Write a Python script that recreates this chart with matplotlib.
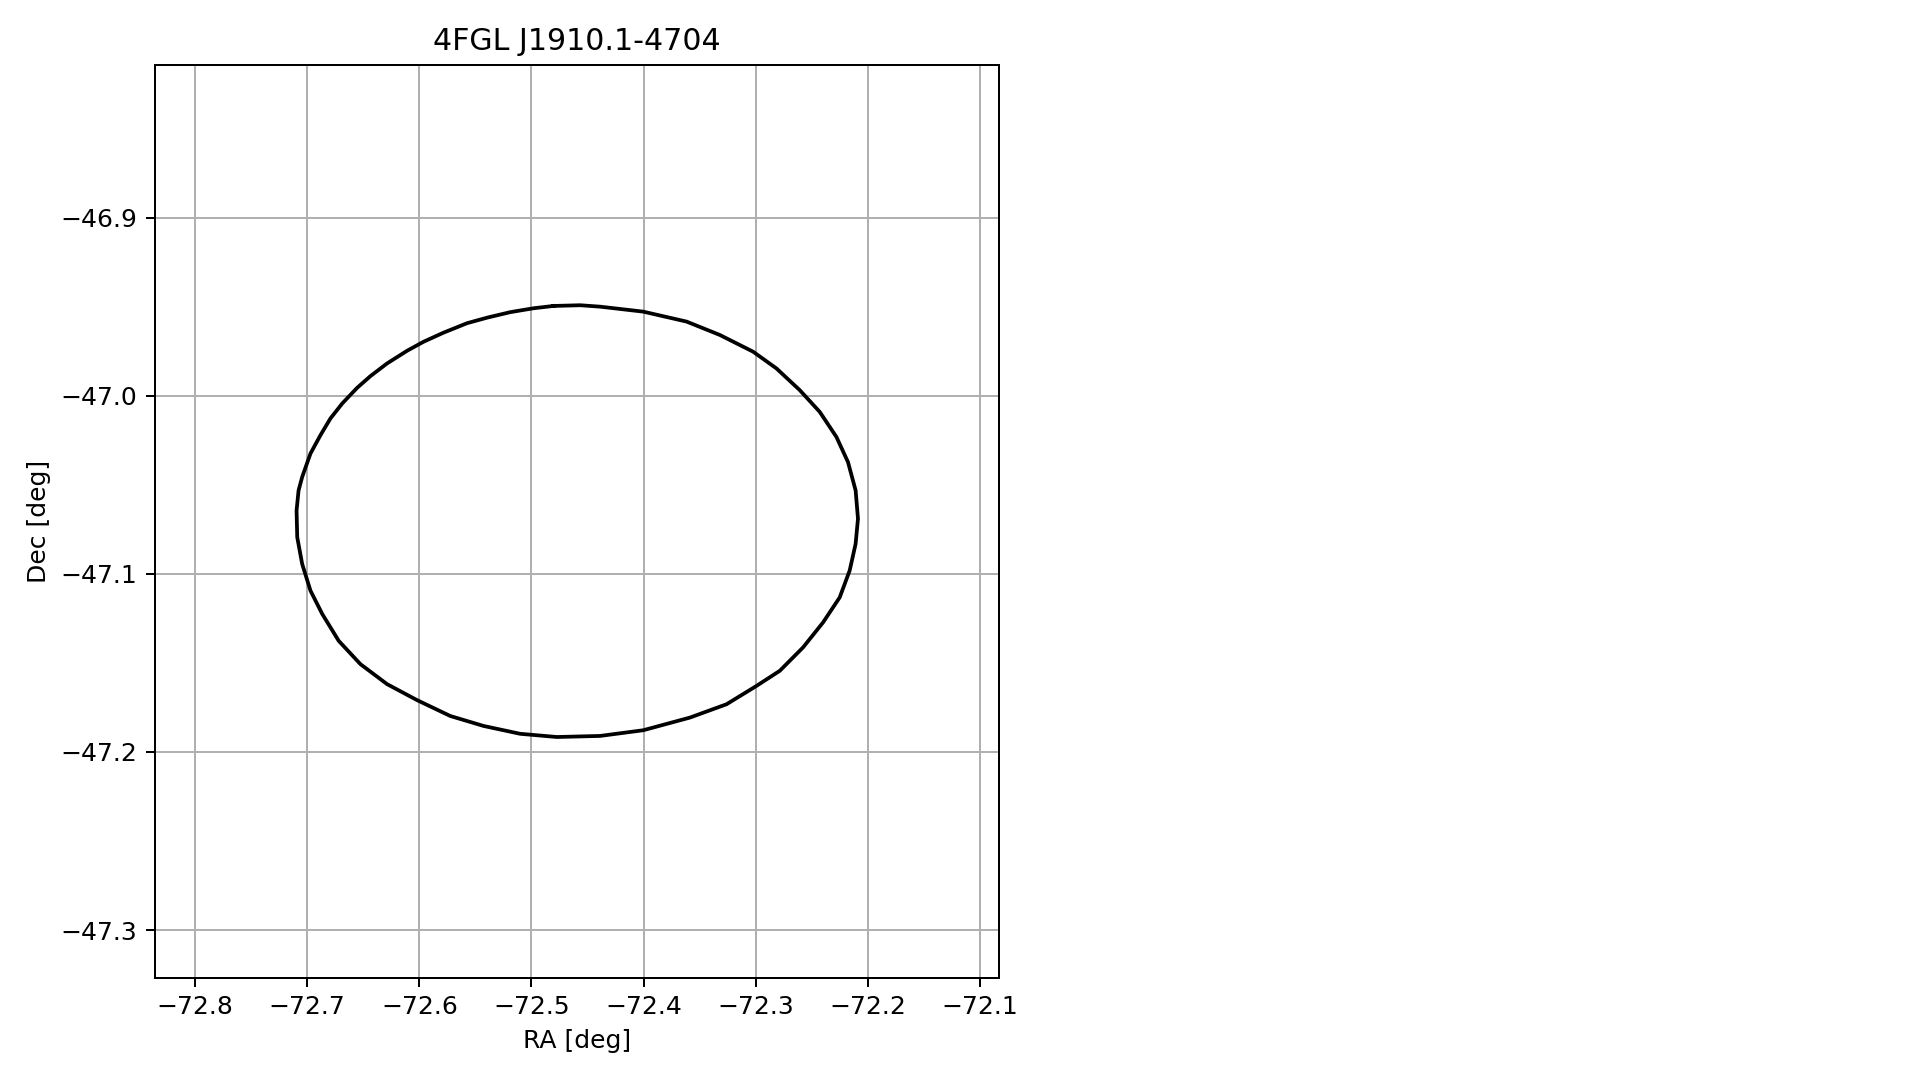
import matplotlib
matplotlib.use("Agg")
import matplotlib.pyplot as plt

source_name = "4FGL J1910.1-4704"

# error ellipse vertices (deg)
ra = [-72.4804, -72.4566, -72.4388, -72.4003, -72.3616, -72.3320, -72.3023,
      -72.2815, -72.2607, -72.2429, -72.2280, -72.2177, -72.2109, -72.2088,
      -72.2109, -72.2162, -72.2251, -72.2400, -72.2578, -72.2785, -72.2993,
      -72.3260, -72.3587, -72.4003, -72.4388, -72.4774, -72.5101, -72.5427,
      -72.5724, -72.6020, -72.6288, -72.6525, -72.6719, -72.6866, -72.6971,
      -72.7045, -72.7089, -72.7095, -72.7077, -72.7045, -72.6971, -72.6882,
      -72.6793, -72.6688, -72.6555, -72.6436, -72.6288, -72.6110, -72.5962,
      -72.5784, -72.5575, -72.5397, -72.5190, -72.4982, -72.4804]
dec = [-46.9495, -46.9491, -46.9499, -46.9527, -46.9583, -46.9658, -46.9752,
       -46.9846, -46.9968, -47.0090, -47.0231, -47.0372, -47.0531, -47.0690,
       -47.0831, -47.0981, -47.1132, -47.1273, -47.1413, -47.1544, -47.1629,
       -47.1732, -47.1807, -47.1878, -47.1910, -47.1916, -47.1898, -47.1854,
       -47.1798, -47.1709, -47.1619, -47.1507, -47.1376, -47.1225, -47.1094,
       -47.0944, -47.0794, -47.0644, -47.0531, -47.0456, -47.0324, -47.0221,
       -47.0127, -47.0043, -46.9955, -46.9889, -46.9818, -46.9747, -46.9696,
       -46.9645, -46.9592, -46.9561, -46.9530, -46.9508, -46.9495]

ra_ticks = [-72.8, -72.7, -72.6, -72.5, -72.4, -72.3, -72.2, -72.1]
dec_ticks = [-46.9, -47.0, -47.1, -47.2, -47.3]

fig = plt.figure(figsize=(1919 / 180, 1080 / 180), dpi=180)
ax = fig.add_axes([0.0808, 0.0947, 0.4398, 0.8454])

ax.plot(ra, dec, color="k", lw=1.5, solid_joinstyle="miter")

ax.set_xlim(-72.8357, -72.0830)
ax.set_ylim(-47.3268, -46.8140)
ax.set_xticks(ra_ticks)
ax.set_yticks(dec_ticks)
ax.grid(True)
ax.set_title(source_name)
ax.set_xlabel("RA [deg]")
ax.set_ylabel("Dec [deg]")

fig.savefig("out.png", dpi=180)
